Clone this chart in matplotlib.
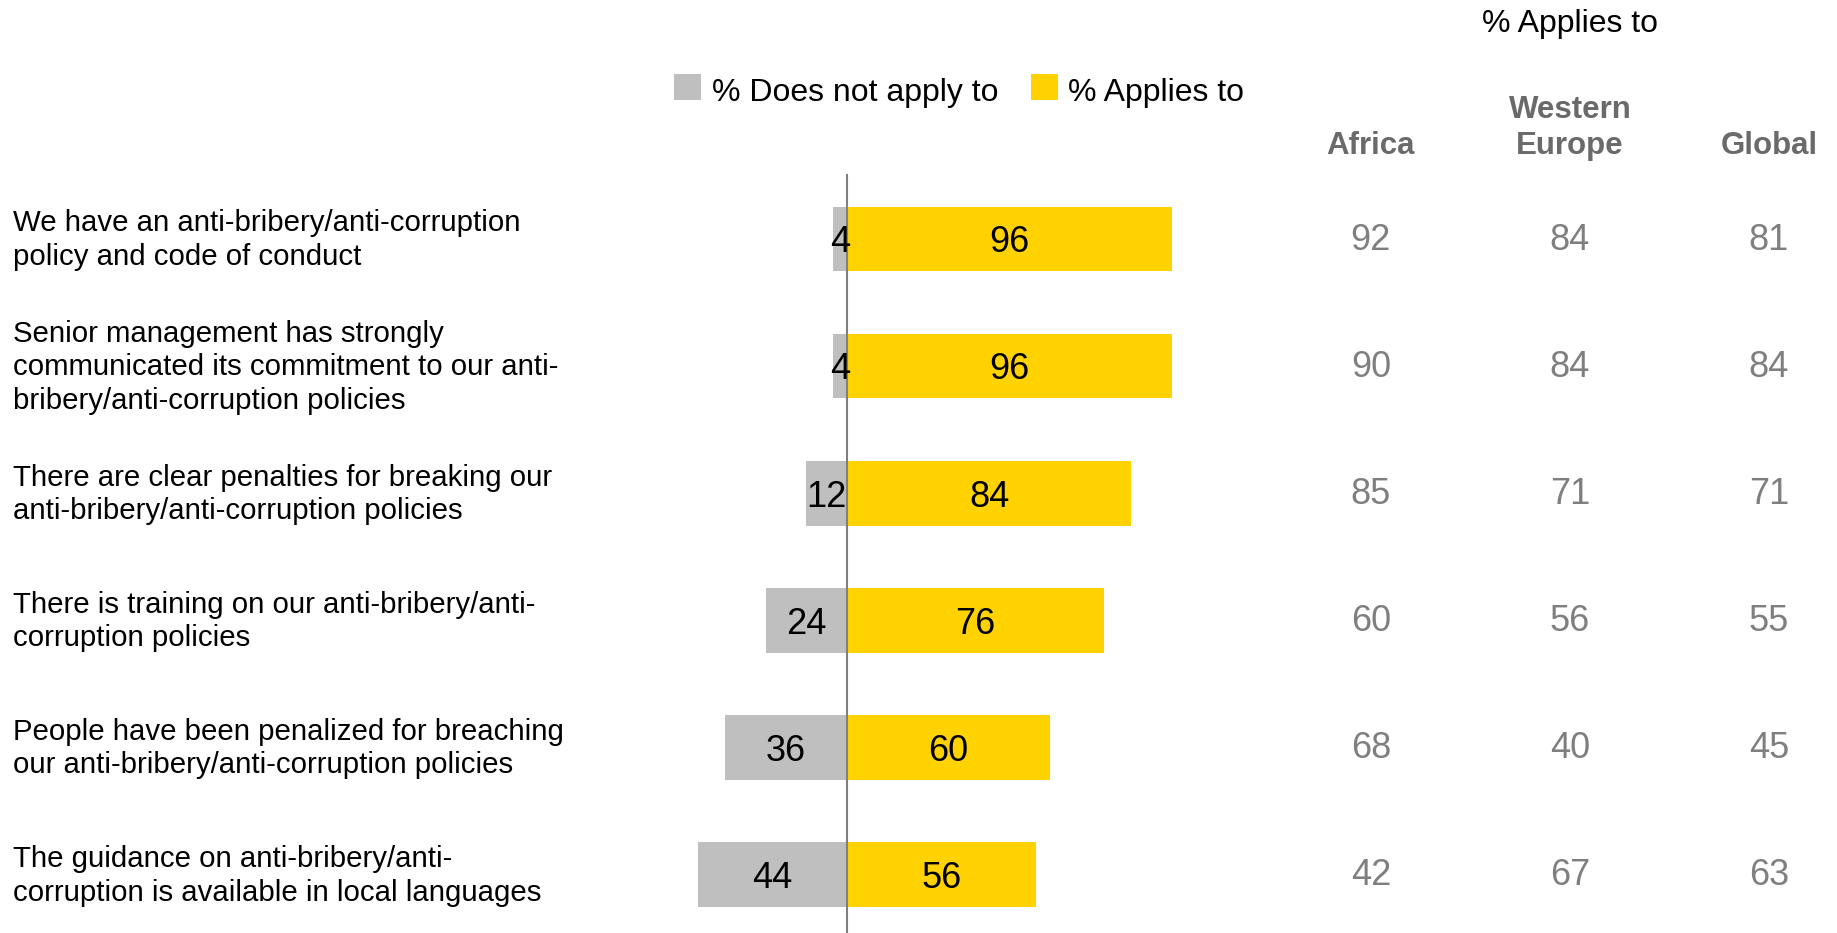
import matplotlib.pyplot as plt
from matplotlib.patches import Rectangle

plt.rcParams['font.family'] = ['Liberation Sans', 'DejaVu Sans']

statements = [
    "We have an anti-bribery/anti-corruption\npolicy and code of conduct",
    "Senior management has strongly\ncommunicated its commitment to our anti-\nbribery/anti-corruption policies",
    "There are clear penalties for breaking our\nanti-bribery/anti-corruption policies",
    "There is training on our anti-bribery/anti-\ncorruption policies",
    "People have been penalized for breaching\nour anti-bribery/anti-corruption policies",
    "The guidance on anti-bribery/anti-\ncorruption is available in local languages",
]
does_not_apply = [4, 4, 12, 24, 36, 44]
applies = [96, 96, 84, 76, 60, 56]

regions = ["Africa", "Western\nEurope", "Global"]
africa = [92, 90, 85, 60, 68, 42]
western_europe = [84, 84, 71, 56, 40, 67]
global_ = [81, 84, 71, 55, 45, 63]

GREY = "#bfbfbf"
YELLOW = "#ffd200"
VALUE_GREY = "#7f7f7f"
HEAD_GREY = "#6a6a6a"

fig = plt.figure(figsize=(18.37, 9.33), dpi=100)
ax = fig.add_axes([0, 0, 1, 1])
ax.set_xlim(-250.2, 292.5)
ax.set_ylim(5.46, -1.88)
ax.axis("off")

rows = range(len(statements))
ax.barh(rows, [-v for v in does_not_apply], height=0.51, color=GREY)
ax.barh(rows, applies, height=0.51, color=YELLOW)
ax.plot([0, 0], [-0.5, 5.46], color="#808080", lw=1.5)

for i in rows:
    ax.text(-246.4, i + 0.01, statements[i], ha="left", va="center",
            fontsize=21.2, linespacing=1.25)
    ax.text(-does_not_apply[i] / 2, i + 0.03, str(does_not_apply[i]),
            ha="center", va="center", fontsize=26)
    ax.text(applies[i] / 2, i + 0.03, str(applies[i]),
            ha="center", va="center", fontsize=26)

# regional comparison columns
col_x = [154.8, 213.6, 272.4]
for x, name, vals in zip(col_x, regions, [africa, western_europe, global_]):
    ax.text(x, -0.61, name, ha="center", va="bottom", fontsize=22.5,
            fontweight="bold", color=HEAD_GREY, linespacing=1.3)
    for i in rows:
        ax.text(x, i + 0.01, str(vals[i]), ha="center", va="center",
                fontsize=26, color=VALUE_GREY)
ax.text(col_x[1], -1.69, "% Applies to", ha="center", va="center", fontsize=23)

# legend
for x, color, label in [(-51, GREY, "% Does not apply to"),
                        (54.4, YELLOW, "% Applies to")]:
    ax.add_patch(Rectangle((x, -1.09), 8.0, -0.205, color=color, lw=0))
    ax.text(x + 11, -1.15, label, ha="left", va="center", fontsize=23)

fig.savefig("out.png", dpi=100)
